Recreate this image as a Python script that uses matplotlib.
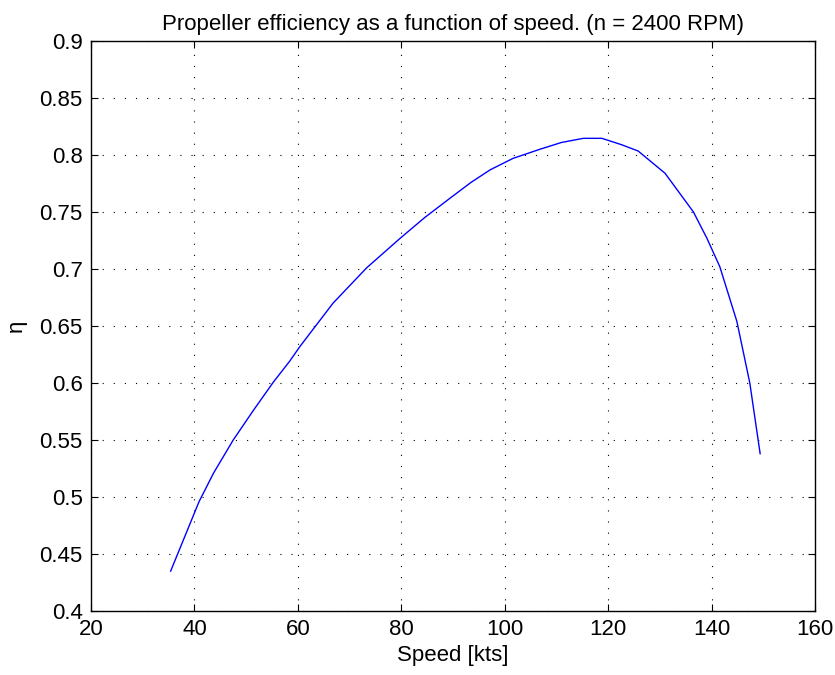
import matplotlib
matplotlib.use("Agg")
import matplotlib.pyplot as plt

# speed [kts] and propeller efficiency
speed = [35.4, 40.9, 43.7, 47.5, 51.4, 55.3, 58.4, 60.4, 66.8, 73.3, 79.8,
         84.5, 89.4, 93.5, 97.2, 101.6, 106.8, 111.0, 115.2, 118.8, 122.6,
         125.8, 131.0, 136.5, 139.1, 141.6, 144.9, 147.4, 149.4]
eta = [0.435, 0.496, 0.521, 0.550, 0.576, 0.601, 0.619, 0.632, 0.670, 0.701,
       0.727, 0.745, 0.762, 0.776, 0.787, 0.797, 0.805, 0.811, 0.8146, 0.8146,
       0.809, 0.8035, 0.784, 0.750, 0.727, 0.702, 0.654, 0.600, 0.538]

x_ticks = [20, 40, 60, 80, 100, 120, 140, 160]
y_ticks = [0.4, 0.45, 0.5, 0.55, 0.6, 0.65, 0.7, 0.75, 0.8, 0.85, 0.9]
y_labels = ['0.4', '0.45', '0.5', '0.55', '0.6', '0.65', '0.7', '0.75', '0.8', '0.85', '0.9']

plt.rcParams['font.family'] = ['Liberation Sans', 'DejaVu Sans']

fig = plt.figure(figsize=(8.35, 6.75), dpi=100)
ax = fig.add_axes([0.109, 0.0948, 0.867, 0.8445])

ax.plot(speed, eta, color='#0000ff', linewidth=1.0)

ax.set_xlim(20, 160)
ax.set_ylim(0.4, 0.9)
ax.set_xticks(x_ticks)
ax.set_yticks(y_ticks)
ax.set_yticklabels(y_labels)
ax.tick_params(direction='in', top=True, right=True, labelsize=16, length=5, width=0.8, pad=6)
ax.grid(True, color='black', linestyle=(0, (1, 9)), linewidth=0.8)
for s in ax.spines.values():
    s.set_linewidth(1.0)

ax.set_xlabel('Speed [kts]', fontsize=16, labelpad=3)
ax.set_ylabel('η', fontsize=16, labelpad=9)
ax.set_title('Propeller efficiency as a function of speed. (n = 2400 RPM)', fontsize=16, pad=8)

fig.savefig('out.png', dpi=100)
